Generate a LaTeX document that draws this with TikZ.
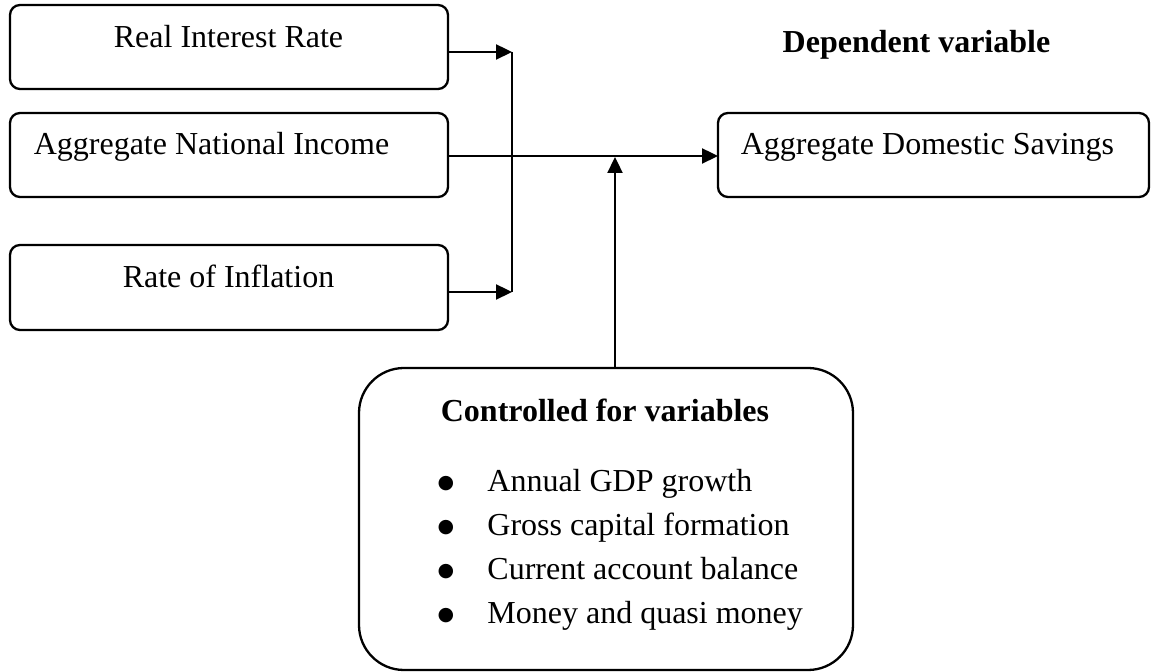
\documentclass[tikz,border=0pt]{standalone}
\usepackage{fontspec}
\setmainfont{Liberation Serif}
\newfontfamily\dejavufont{DejaVu Sans}
\usetikzlibrary{arrows.meta}
\begin{document}
\begin{tikzpicture}[x=0.5pt,y=-0.5pt,
  box/.style={draw,line width=1.15pt,rounded corners=5pt,inner sep=0pt,outer sep=0pt},
  bigbox/.style={draw,line width=1.15pt,rounded corners=22.5pt,inner sep=0pt,outer sep=0pt},
  txt/.style={inner sep=0pt,font=\fontsize{16}{19}\selectfont},
  btxt/.style={inner sep=0pt,font=\fontsize{16}{19}\selectfont\bfseries},
  bul/.style={inner sep=0pt,anchor=center,font=\fontsize{9.5}{10}\selectfont\dejavufont},
  conn/.style={line width=1.15pt},
  arr/.style={line width=1.15pt,-{Triangle[length=8pt,width=7.5pt]}}]
\useasboundingbox (0,0) rectangle (1151,672);
% boxes
\node[box,minimum width=219pt,minimum height=42pt] (b1) at (229,47) {};
\node[box,minimum width=219pt,minimum height=42pt] (b2) at (229,155) {};
\node[box,minimum width=219pt,minimum height=42.5pt] (b3) at (229,287.5) {};
\node[box,minimum width=215.5pt,minimum height=42pt] (b4) at (933.5,155) {};
\node[bigbox,minimum width=247pt,minimum height=151pt] (ctl) at (606,519) {};
% texts
\node[txt,anchor=base] (t1) at (228.5,48) {Real Interest Rate};
\node[txt,anchor=base] (t2) at (211.5,155) {Aggregate National Income};
\node[txt,anchor=base] (t3) at (228.5,288) {Rate of Inflation};
\node[txt,anchor=base] (t4) at (927.5,155) {Aggregate Domestic Savings};
\node[btxt,anchor=base] (dep) at (916.5,53) {Dependent variable};
\node[btxt,anchor=base] (ctitle) at (605,422) {Controlled for variables};
\node[bul] (bu1) at (446,484) {●};
\node[bul] (bu2) at (446,528) {●};
\node[bul] (bu3) at (446,572) {●};
\node[bul] (bu4) at (446,616) {●};
\node[txt,anchor=base west] (i1) at (487,492) {Annual GDP growth};
\node[txt,anchor=base west] (i2) at (487,536) {Gross capital formation};
\node[txt,anchor=base west] (i3) at (487,580) {Current account balance};
\node[txt,anchor=base west] (i4) at (487,624) {Money and quasi money};
% connectors
\coordinate (j1) at (512,52);
\coordinate (j3) at (512,292);
\coordinate (m) at (615,157);
\draw[arr] ([yshift=-2.5pt]b1.east) -- (j1);
\draw[arr] ([yshift=-2.25pt]b3.east) -- (j3);
\draw[conn] (j1) -- (j3);
\draw[arr] ([yshift=-0.5pt]b2.east) -- ([yshift=-0.5pt]b4.west);
\draw[arr] ([xshift=4.5pt]ctl.north) -- (m);
\end{tikzpicture}
\end{document}
